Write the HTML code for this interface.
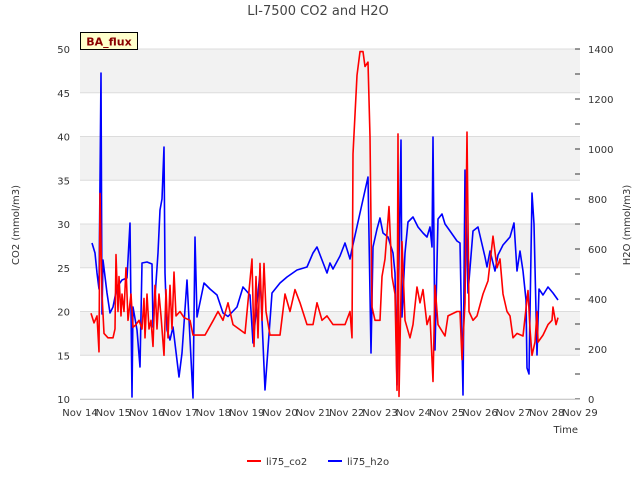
<!DOCTYPE html>
<html><head><meta charset="utf-8"><style>
body{margin:0;background:#fff;font-family:"DejaVu Sans","Liberation Sans",sans-serif}
svg text{font-family:"DejaVu Sans","Liberation Sans",sans-serif}
</style></head><body>
<svg id="chart" width="640" height="480" xmlns="http://www.w3.org/2000/svg">
<text x="318" y="15" text-anchor="middle" font-size="13" fill="#444">LI-7500 CO2 and H2O</text>
<g id="bands"></g>
<g id="axes"></g>
<g id="series"></g>
<rect x="80.5" y="32.5" width="57" height="17" fill="#ffffcc" stroke="#000" stroke-width="1"/>
<text x="109" y="45.5" text-anchor="middle" font-size="11" font-weight="bold" fill="#8b0000">BA_flux</text>
<text transform="translate(19,225) rotate(-90)" text-anchor="middle" font-size="10" fill="#333">CO2 (mmol/m3)</text>
<text transform="translate(630,225) rotate(-90)" text-anchor="middle" font-size="10" fill="#333">H2O (mmol/m3)</text>
<text x="578" y="433" text-anchor="end" font-size="10" fill="#333">Time</text>
<g>
<line x1="247" y1="461" x2="261" y2="461" stroke="#f00" stroke-width="2"/>
<text x="266" y="465" font-size="10" fill="#333">li75_co2</text>
<line x1="328" y1="461" x2="342" y2="461" stroke="#00f" stroke-width="2"/>
<text x="347" y="465" font-size="10" fill="#333">li75_h2o</text>
</g>
</svg>
<script>
const xTickLabels=["Nov 14","Nov 15","Nov 16","Nov 17","Nov 18","Nov 19","Nov 20","Nov 21","Nov 22","Nov 23","Nov 24","Nov 25","Nov 26","Nov 27","Nov 28","Nov 29"];
const leftTicks=[10,15,20,25,30,35,40,45,50];
const rightTicks=[0,200,400,600,800,1000,1200,1400];
const co2Days=[14.33,14.42,14.51,14.57,14.60,14.66,14.72,14.84,14.99,15.05,15.08,15.14,15.17,15.23,15.26,15.32,15.38,15.44,15.53,15.59,15.68,15.77,15.86,15.92,15.95,16.01,16.07,16.13,16.19,16.25,16.31,16.37,16.43,16.52,16.58,16.64,16.70,16.76,16.82,16.88,17.00,17.12,17.30,17.39,17.75,18.00,18.14,18.29,18.44,18.59,18.95,19.16,19.22,19.28,19.34,19.40,19.46,19.52,19.58,19.70,20.00,20.15,20.30,20.45,20.60,20.81,20.99,21.11,21.26,21.41,21.59,21.95,22.10,22.16,22.19,22.31,22.40,22.49,22.55,22.64,22.70,22.76,22.85,23.00,23.06,23.15,23.27,23.36,23.45,23.51,23.54,23.57,23.66,23.75,23.90,23.99,24.11,24.20,24.29,24.41,24.50,24.59,24.65,24.74,24.95,25.04,25.31,25.40,25.46,25.55,25.61,25.67,25.79,25.91,26.09,26.24,26.39,26.51,26.60,26.69,26.81,26.90,26.99,27.11,27.29,27.44,27.50,27.56,27.65,27.71,27.74,27.89,28.04,28.16,28.19,28.28,28.34];
const co2Values=[19.8,18.7,19.5,15.4,33.5,22,17.5,17,17,18,26.5,20,24,19.5,22,20,25,19,22,18.2,18.5,19,18,21.5,17,22,18,19,16,23,18,22,19.5,15,22.5,17,23,18,24.5,19.5,20,19.3,19,17.3,17.3,19,20,19,21,18.5,17.5,26,16,24,17,25.5,19,25.5,20,17.3,17.3,22,20,22.5,21,18.5,18.5,21,19,19.5,18.5,18.5,20,17,38,47,49.7,49.7,48,48.5,40,20.5,19,19,24,26,32,24,22,11,40.3,10.3,28,19,17,18.5,22.8,21,22.5,18.5,19.5,12,23,18.5,17.2,19.5,20,20,14.5,21,40.5,20,19,19.5,22,23.5,28.6,25,26,22,20,19.5,17,17.5,17.2,22.4,18,15,16.5,20,16.5,17.3,18.5,19,20.5,18.5,19.3];
const h2oDays=[14.36,14.45,14.51,14.57,14.63,14.66,14.69,14.81,14.90,14.99,15.11,15.26,15.41,15.50,15.56,15.59,15.71,15.80,15.86,16.01,16.16,16.19,16.34,16.40,16.46,16.52,16.55,16.61,16.70,16.79,16.97,17.06,17.21,17.39,17.45,17.51,17.72,17.90,18.11,18.29,18.44,18.71,18.89,19.10,19.19,19.40,19.55,19.76,20.00,20.21,20.51,20.81,20.99,21.11,21.41,21.50,21.59,21.80,21.95,22.10,22.16,22.64,22.73,22.79,22.91,23.00,23.09,23.24,23.39,23.45,23.51,23.63,23.66,23.75,23.84,23.99,24.14,24.29,24.41,24.50,24.56,24.59,24.65,24.74,24.86,24.95,25.10,25.31,25.40,25.49,25.55,25.64,25.79,25.94,26.15,26.21,26.30,26.45,26.54,26.69,26.90,27.02,27.11,27.20,27.29,27.38,27.41,27.47,27.56,27.62,27.71,27.77,27.89,28.04,28.19,28.34];
const h2oValues=[624,584,504,440,1304,340,556,424,344,368,448,476,484,704,8,368,276,128,544,548,540,288,584,756,800,1008,504,276,236,288,88,184,476,4,648,328,464,440,416,344,330,368,448,416,224,504,36,424,464,488,516,528,584,608,504,544,520,572,624,560,600,888,184,608,680,724,664,648,584,504,56,1036,328,584,708,728,688,664,648,688,608,1048,196,720,740,700,672,632,624,16,916,424,672,688,568,528,592,512,576,616,648,704,512,592,512,396,124,100,824,700,176,440,416,448,424,396];

const L=80,R=580,T=49,B=399,NS="http://www.w3.org/2000/svg";
const xs=d=>L+(d-14)*(R-L)/15;
const yL=v=>B-(v-10)*(B-T)/40;
const yR=v=>B-v*(B-T)/1400;
function mk(tag,attrs,parent){const e=document.createElementNS(NS,tag);for(const k in attrs)e.setAttribute(k,attrs[k]);parent.appendChild(e);return e;}
const bands=document.getElementById('bands'),axes=document.getElementById('axes'),series=document.getElementById('series');
const plotBg=mk('rect',{x:L,y:T,width:R-L,height:B-T,fill:'#fff'},bands);


for(let i=0;i<leftTicks.length-1;i++){
  if(i%2===1){const lo=leftTicks[i],hi=leftTicks[i+1];
    const b=mk('rect',{x:L,y:yL(hi),width:R-L,height:yL(lo)-yL(hi),fill:'#f2f2f2'},bands);
    
    }
}
leftTicks.forEach(v=>{
  const g=mk('line',{x1:L,x2:R,y1:yL(v),y2:yL(v),stroke:'#dcdcdc','stroke-width':1},bands);
  
  
  const t=mk('text',{x:L-10,y:yL(v)+4,'text-anchor':'end','font-size':10,fill:'#333'},axes);t.textContent=v;
  
  
});
for(let v=0;v<=1400;v+=100){
  const tk=mk('line',{x1:R-5,x2:R,y1:yR(v),y2:yR(v),stroke:'#333','stroke-width':1},axes);
  
  
}
rightTicks.forEach(v=>{
  const t=mk('text',{x:R+8,y:yR(v)+4,'font-size':10,fill:'#333'},axes);t.textContent=v;
  
  
});
xTickLabels.forEach((s,i)=>{
  const t=mk('text',{x:xs(14+i),y:416,'text-anchor':'middle','font-size':10,fill:'#333'},axes);t.textContent=s;
  
  
});
const ax=mk('line',{x1:L,x2:R,y1:B+0.5,y2:B+0.5,stroke:'#ccc'},axes);


const pH=mk('polyline',{points:h2oDays.map((d,i)=>xs(d).toFixed(1)+','+yR(h2oValues[i]).toFixed(1)).join(' '),fill:'none',stroke:'#00f','stroke-width':1.6,'stroke-linejoin':'round'},series);


const pC=mk('polyline',{points:co2Days.map((d,i)=>xs(d).toFixed(1)+','+yL(co2Values[i]).toFixed(1)).join(' '),fill:'none',stroke:'#f00','stroke-width':1.6,'stroke-linejoin':'round'},series);


</script>
</body></html>
